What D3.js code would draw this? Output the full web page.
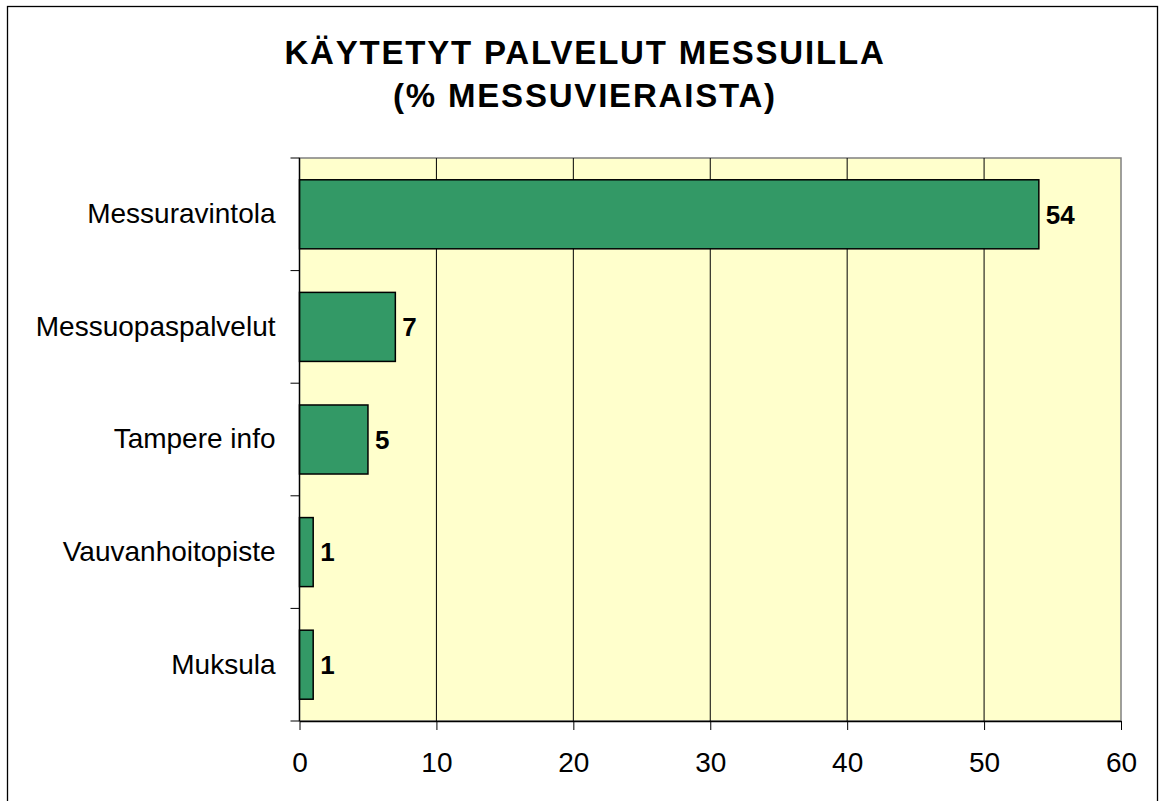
<!DOCTYPE html>
<html>
<head>
<meta charset="utf-8">
<script src="https://cdn.jsdelivr.net/npm/d3@7"></script>
<style>
  body { margin: 0; background: #fff; }
  text { font-family: "Liberation Sans", Arial, sans-serif; }
</style>
</head>
<body>
<div id="chart"></div>
<script>
// Chart data
const categories = ["Messuravintola", "Messuopaspalvelut", "Tampere info", "Vauvanhoitopiste", "Muksula"];
const values = [54, 7, 5, 1, 1];
const xTicks = [0, 10, 20, 30, 40, 50, 60];
const titleLines = ["KÄYTETYT PALVELUT MESSUILLA", "(% MESSUVIERAISTA)"];

const width = 1162;
const height = 801;
const margin = { left: 299.5, right: 41, top: 158, bottom: 80 };

const svg = d3.select("#chart")
  .append("svg")
  .attr("width", width)
  .attr("height", height);

// outer chart border
svg.append("rect")
  .attr("x", 7.5).attr("y", 6.5)
  .attr("width", 1150).attr("height", 820)
  .attr("fill", "#fff")
  .attr("stroke", "#000")
  .attr("stroke-width", 1.3);

// title
svg.append("text")
  .attr("x", 585)
  .attr("text-anchor", "middle")
  .attr("font-size", "33px")
  .attr("font-weight", "bold")
  .attr("letter-spacing", "1.8px")
  .selectAll("tspan")
  .data(titleLines)
  .enter()
  .append("tspan")
  .attr("x", 585)
  .attr("y", (d, i) => 64 + i * 43)
  .text(d => d);

// scales
const x = d3.scaleLinear()
  .domain([0, 60])
  .range([margin.left, width - margin.right]);

const pad = 0.387;
const y = d3.scaleBand()
  .domain(categories)
  .range([margin.top, height - margin.bottom])
  .paddingInner(pad)
  .paddingOuter(pad / 2);

const x0 = x.range()[0], x1 = x.range()[1];
const y0 = y.range()[0], y1 = y.range()[1];

// plot background
svg.append("rect")
  .attr("x", x0).attr("y", y0)
  .attr("width", x1 - x0).attr("height", y1 - y0)
  .attr("fill", "#FFFFCC")
  .attr("stroke", "#808080")
  .attr("stroke-width", 1.5);

// vertical gridlines
svg.selectAll(".grid")
  .data(xTicks.filter(t => t > 0 && t < 60))
  .enter()
  .append("line")
  .attr("class", "grid")
  .attr("x1", d => x(d)).attr("x2", d => x(d))
  .attr("y1", y0).attr("y2", y1)
  .attr("stroke", "#000")
  .attr("stroke-width", 1);

// bars
svg.selectAll(".bar")
  .data(values)
  .enter()
  .append("rect")
  .attr("class", "bar")
  .attr("x", x(0))
  .attr("y", (d, i) => y(categories[i]))
  .attr("width", d => x(d) - x(0))
  .attr("height", y.bandwidth())
  .attr("fill", "#339966")
  .attr("stroke", "#000")
  .attr("stroke-width", 1.5);

// value labels
svg.selectAll(".val")
  .data(values)
  .enter()
  .append("text")
  .attr("class", "val")
  .attr("x", d => x(d) + 7)
  .attr("y", (d, i) => y(categories[i]) + y.bandwidth() / 2)
  .attr("dy", "0.36em")
  .attr("font-size", "26px")
  .attr("font-weight", "bold")
  .text(d => d);

// y axis: labels at band centres, ticks at band boundaries
const yAxis = svg.append("g")
  .attr("transform", `translate(${x0},0)`)
  .call(d3.axisLeft(y).tickSize(0).tickPadding(24));
yAxis.select(".domain").remove();
yAxis.selectAll("text")
  .attr("font-size", "28px")
  .attr("font-family", "Liberation Sans, Arial, sans-serif")
  .attr("fill", "#000");

const bounds = d3.range(categories.length + 1).map(i => y0 + i * y.step());
svg.selectAll(".ytick")
  .data(bounds)
  .enter()
  .append("line")
  .attr("x1", x0 - 9).attr("x2", x0)
  .attr("y1", d => d).attr("y2", d => d)
  .attr("stroke", "#000");

svg.append("line")
  .attr("x1", x0).attr("x2", x0)
  .attr("y1", y0).attr("y2", y1)
  .attr("stroke", "#000").attr("stroke-width", 1.3);

// x axis
const xAxis = svg.append("g")
  .attr("transform", `translate(0,${y1})`)
  .call(d3.axisBottom(x).tickValues(xTicks).tickSize(9).tickPadding(22).tickSizeOuter(0));
xAxis.select(".domain").attr("stroke", "#000").attr("stroke-width", 1.3);
xAxis.selectAll("text")
  .attr("font-size", "28px")
  .attr("font-family", "Liberation Sans, Arial, sans-serif")
  .attr("fill", "#000");
xAxis.selectAll(".tick line").attr("stroke", "#000");
</script>
</body>
</html>
